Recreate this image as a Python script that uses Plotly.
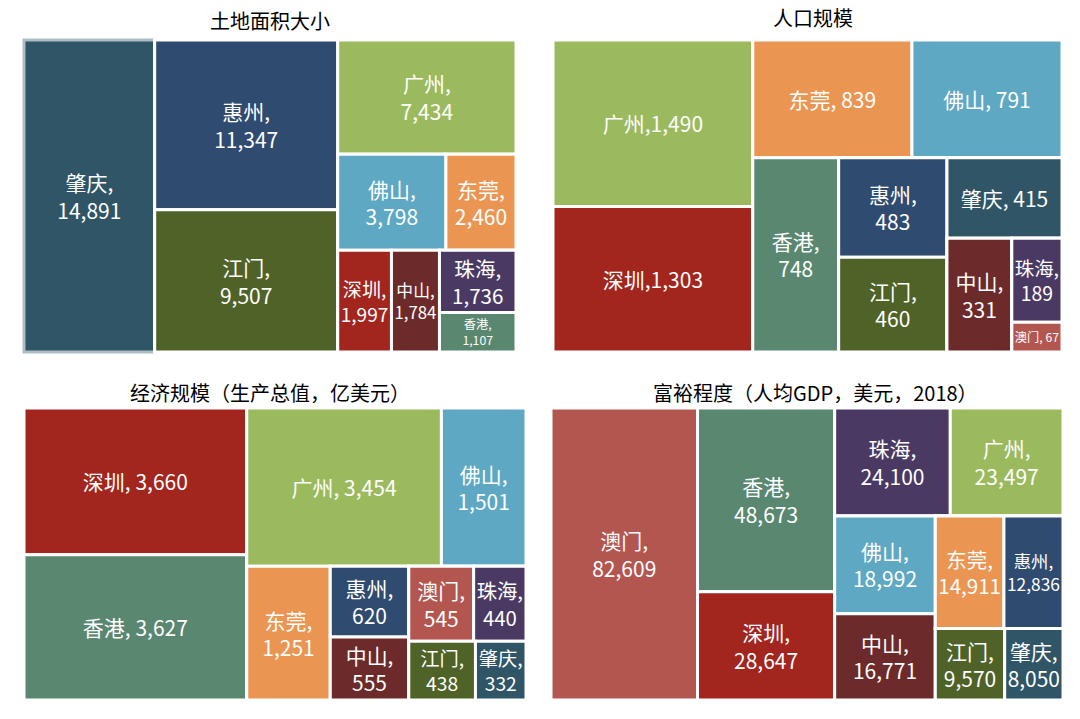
import plotly.graph_objects as go

# ---------------- data ----------------
land_labels = ["肇庆", "惠州", "江门", "广州", "佛山", "东莞", "深圳", "中山", "珠海", "香港"]
land_values = [14891, 11347, 9507, 7434, 3798, 2460, 1997, 1784, 1736, 1107]

pop_labels = ["广州", "深圳", "东莞", "佛山", "香港", "惠州", "江门", "肇庆", "中山", "珠海", "澳门"]
pop_values = [1490, 1303, 839, 791, 748, 483, 460, 415, 331, 189, 67]

gdp_labels = ["深圳", "香港", "广州", "佛山", "东莞", "惠州", "中山", "澳门", "珠海", "江门", "肇庆"]
gdp_values = [3660, 3627, 3454, 1501, 1251, 620, 555, 545, 440, 438, 332]

pc_labels = ["澳门", "香港", "深圳", "珠海", "广州", "佛山", "中山", "东莞", "惠州", "江门", "肇庆"]
pc_values = [82609, 48673, 28647, 24100, 23497, 18992, 16771, 14911, 12836, 9570, 8050]

titles = ["土地面积大小", "人口规模", "经济规模（生产总值，亿美元）", "富裕程度（人均GDP，美元，2018）"]

# ---------------- tile grouping (as in the reference, alternating columns / rows) ----------------
land_tree = ["肇庆", ["惠州", "江门"], ["广州", ["佛山", "东莞"], ["深圳", "中山", ["珠海", "香港"]]]]
pop_tree = [["广州", "深圳"],
            [["东莞", "佛山"], ["香港", ["惠州", "江门"], ["肇庆", ["中山", ["珠海", "澳门"]]]]]]
gdp_tree = [["深圳", "香港"],
            [["广州", "佛山"], ["东莞", ["惠州", "中山"], [["澳门", "珠海"], ["江门", "肇庆"]]]]]
pc_tree = ["澳门", ["香港", "深圳"],
           [["珠海", "广州"], [["佛山", "中山"], [["东莞", "惠州"], ["江门", "肇庆"]]]]]

# label separators (single line vs two lines)
land_oneline = []
pop_oneline = ["广州", "深圳", "东莞", "佛山", "肇庆", "澳门"]
gdp_oneline = ["深圳", "香港", "广州"]
pc_oneline = []
nospace = {("pop", "广州"), ("pop", "深圳")}
highlighted = {("land", "肇庆")}

# ---------------- style ----------------
city_colors = {
    "肇庆": "#2F5566",
    "惠州": "#2F4B6F",
    "江门": "#4F6228",
    "广州": "#9BBA5E",
    "佛山": "#5EA8C4",
    "东莞": "#EA9652",
    "深圳": "#A2251E",
    "中山": "#6C2A2A",
    "珠海": "#4A3A63",
    "香港": "#5A8770",
    "澳门": "#B45650",
}

FONT = "Noto Sans CJK SC, Noto Sans, sans-serif"

domains = [
    dict(x=[24 / 1080, 516 / 1080], y=[1 - 352 / 719, 1 - 40 / 719]),
    dict(x=[553 / 1080, 1062 / 1080], y=[1 - 352 / 719, 1 - 40 / 719]),
    dict(x=[24 / 1080, 526 / 1080], y=[1 - 700 / 719, 1 - 408 / 719]),
    dict(x=[551 / 1080, 1063 / 1080], y=[1 - 700 / 719, 1 - 408 / 719]),
]

panels = [
    ("land", land_labels, land_values, land_tree, land_oneline),
    ("pop", pop_labels, pop_values, pop_tree, pop_oneline),
    ("gdp", gdp_labels, gdp_values, gdp_tree, gdp_oneline),
    ("pc", pc_labels, pc_values, pc_tree, pc_oneline),
]


def flatten(tree, parent, out, counter):
    for node in tree:
        if isinstance(node, list):
            counter[0] += 1
            gid = f"g{counter[0]}"
            out.append((gid, parent, None))
            flatten(node, gid, out, counter)
        else:
            out.append((node, parent, node))


fig = go.Figure()
for (key, labels, values, tree, oneline), dom in zip(panels, domains):
    vmap = dict(zip(labels, values))
    nodes = []
    flatten(tree, "", nodes, [0])
    ids, parents, vals, texts, colors, names, lcolors = [], [], [], [], [], [], []
    for nid, par, leaf in nodes:
        ids.append(nid)
        parents.append(par)
        if leaf is None:
            vals.append(0)
            texts.append("")
            colors.append("white")
            names.append("")
            lcolors.append("white")
        else:
            v = vmap[leaf]
            vals.append(v)
            if leaf in oneline:
                sep = "," if (key, leaf) in nospace else ", "
            else:
                sep = ",<br>"
            texts.append(f"{leaf}{sep}{v:,}")
            colors.append(city_colors[leaf])
            names.append(leaf)
            lcolors.append("#AEBCC3" if (key, leaf) in highlighted else "white")
    fig.add_trace(go.Treemap(
        ids=ids,
        labels=names,
        parents=parents,
        values=vals,
        branchvalues="remainder",
        text=texts,
        texttemplate="%{text}",
        textposition="middle center",
        textfont=dict(family=FONT, size=21, color="white"),
        marker=dict(colors=colors,
                    line=dict(color=lcolors, width=3),
                    pad=dict(t=0, l=0, r=0, b=0)),
        sort=False,
        tiling=dict(packing="slice-dice", pad=0),
        pathbar=dict(visible=False),
        hoverinfo="text",
        domain=dom,
    ))

title_pos = [(270, 20), (813, 18), (270, 392), (815, 392)]
for t, (x, y) in zip(titles, title_pos):
    fig.add_annotation(text=t, x=x / 1080, y=1 - y / 719, xref="paper", yref="paper",
                       showarrow=False, font=dict(family=FONT, size=20, color="black"),
                       xanchor="center", yanchor="middle")

fig.update_layout(
    width=1080, height=719,
    margin=dict(l=0, r=0, t=0, b=0),
    paper_bgcolor="white",
    plot_bgcolor="white",
    showlegend=False,
)

fig.write_html("out.html")
